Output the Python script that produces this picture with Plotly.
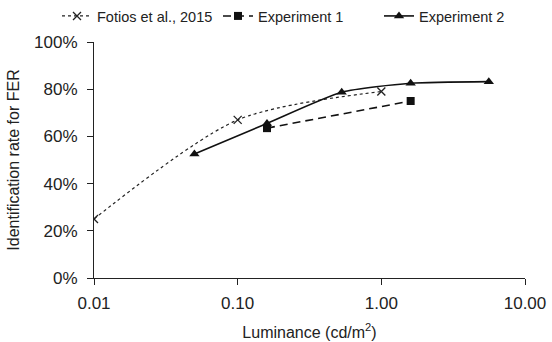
import plotly.graph_objects as go

# Luminance (cd/m^2) and identification rate for FER
fotios_x = [0.01, 0.1, 1.0]
fotios_y = [0.25, 0.67, 0.79]

exp1_x = [0.16, 1.6]
exp1_y = [0.635, 0.75]

exp2_x = [0.05, 0.16, 0.53, 1.6, 5.6]
exp2_y = [0.525, 0.655, 0.787, 0.825, 0.832]

x_tickvals = [0.01, 0.1, 1, 10]
x_ticktext = ["0.01", "0.10", "1.00", "10.00"]
y_tickvals = [0, 0.2, 0.4, 0.6, 0.8, 1.0]

family = "Liberation Sans, Arial, sans-serif"
font = dict(family=family, size=17, color="#222")
legend_font = dict(family=family, size=14.5, color="#222")
title_font = dict(family=family, size=16, color="#222")

fig = go.Figure()
fig.add_trace(go.Scatter(
    x=fotios_x, y=fotios_y, name="Fotios et al., 2015",
    mode="lines+markers",
    line=dict(color="#222", width=1.2, dash="dot", shape="spline", smoothing=0.8),
    marker=dict(symbol="x-thin", size=8, line=dict(color="#222", width=1.3)),
))
fig.add_trace(go.Scatter(
    x=exp1_x, y=exp1_y, name="Experiment 1",
    mode="lines+markers",
    line=dict(color="#111", width=1.6, dash="8px,5px"),
    marker=dict(symbol="square", size=8, color="#111"),
))
fig.add_trace(go.Scatter(
    x=exp2_x, y=exp2_y, name="Experiment 2",
    mode="lines+markers",
    line=dict(color="#111", width=1.6, shape="spline", smoothing=0.6),
    marker=dict(symbol="triangle-up", size=9, color="#111"),
))

# plot area: 431 x 236 px, starting 94 px from the left and 42 px from the top
fig.update_layout(
    width=552, height=342,
    margin=dict(l=94, r=27, t=42, b=64, autoexpand=False),
    paper_bgcolor="white", plot_bgcolor="white",
    font=font,
    showlegend=True,
    legend=dict(
        orientation="h",
        x=(57 - 94) / 431, xref="paper", xanchor="left",
        y=1 + 42 / 236, yref="paper", yanchor="top",
        font=legend_font, itemwidth=30,
        entrywidth=116, entrywidthmode="pixels",
        bgcolor="rgba(0,0,0,0)",
    ),
)
fig.update_xaxes(
    type="log", range=[-2, 1],
    tickvals=x_tickvals, ticktext=x_ticktext,
    showline=True, linecolor="#222", linewidth=1,
    ticks="outside", ticklen=6, tickcolor="#222", ticklabelstandoff=4,
    showgrid=False, zeroline=False,
    title=dict(text="Luminance (cd/m<sup>2</sup>)", standoff=14, font=title_font),
)
fig.update_yaxes(
    range=[0, 1.0], tickvals=y_tickvals, tickformat=".0%",
    showline=True, linecolor="#222", linewidth=1,
    ticks="outside", ticklen=6, tickcolor="#222", ticklabelstandoff=6,
    showgrid=False, zeroline=False,
    title=dict(text="Identification rate for FER", standoff=10, font=title_font),
)

fig.write_html("out.html")
